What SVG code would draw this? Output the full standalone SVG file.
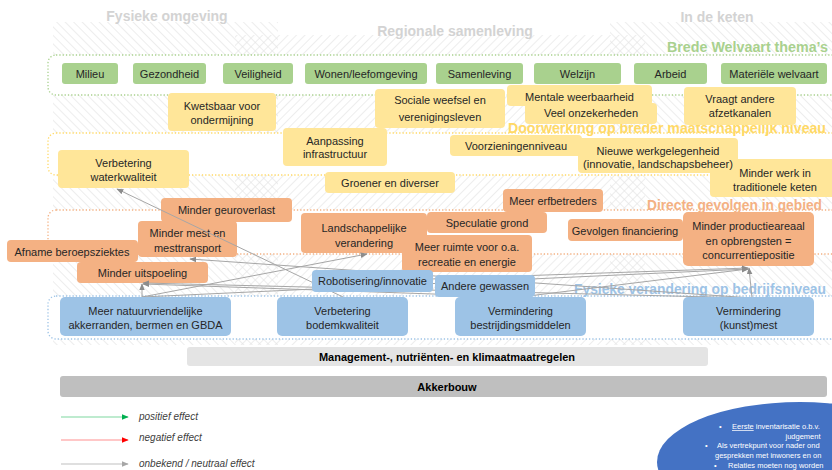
<svg xmlns="http://www.w3.org/2000/svg" width="832" height="470" viewBox="0 0 832 470">
<style>
.t{font-family:"Liberation Sans",Arial,sans-serif;font-size:11px;fill:#262626;text-anchor:middle}
.hd{font-family:"Liberation Sans",Arial,sans-serif;font-size:14px;font-weight:bold;fill:#d3d3d3;text-anchor:middle}
.bl{font-family:"Liberation Sans",Arial,sans-serif;font-size:14px;font-weight:bold;text-anchor:end}
.g rect{fill:#a9d18e}
.y rect{fill:#ffe699}
.o rect{fill:#f4b183}
.b rect{fill:#9dc3e6}
.band{fill:#ffffff;stroke-width:1.3;stroke-dasharray:1.3 2}
.cn{fill:none;stroke:#a6a6a6;stroke-width:1;marker-end:url(#ag)}
.lg{font-family:"Liberation Sans",Arial,sans-serif;font-size:10px;font-style:italic;fill:#404040}
.el{font-family:"Liberation Sans",Arial,sans-serif;font-size:7.5px;fill:#ffffff}
</style>
<defs>
<pattern id="hs" width="6" height="6" patternUnits="userSpaceOnUse" patternTransform="rotate(45)"><line x1="0" y1="0" x2="0" y2="6" stroke="#e4e4e4" stroke-width="1.3"/></pattern>
<pattern id="hb" width="6" height="6" patternUnits="userSpaceOnUse" patternTransform="rotate(-45)"><line x1="0" y1="0" x2="0" y2="6" stroke="#e4e4e4" stroke-width="1.3"/></pattern>
<marker id="ag" viewBox="0 0 10 10" refX="9" refY="5" markerWidth="7" markerHeight="7" orient="auto"><path d="M0,1 L10,5 L0,9 z" fill="#8c8c8c"/></marker>
<marker id="agr" viewBox="0 0 10 10" refX="9" refY="5" markerWidth="6" markerHeight="6" orient="auto"><path d="M0,1 L10,5 L0,9 z" fill="#00b050"/></marker>
<marker id="ard" viewBox="0 0 10 10" refX="9" refY="5" markerWidth="6" markerHeight="6" orient="auto"><path d="M0,1 L10,5 L0,9 z" fill="#ff0000"/></marker>
<marker id="agy" viewBox="0 0 10 10" refX="9" refY="5" markerWidth="6" markerHeight="6" orient="auto"><path d="M0,1 L10,5 L0,9 z" fill="#a6a6a6"/></marker>
</defs>
<rect width="832" height="470" fill="#ffffff"/>
<g id="hatching">
<rect x="53" y="22" width="225" height="323" fill="url(#hb)"/>
<rect x="235" y="35" width="410" height="310" fill="url(#hs)"/>
<rect x="610" y="22" width="222" height="323" fill="url(#hb)"/>
</g>
<g id="headers">
<text class="hd" x="167" y="21">Fysieke omgeving</text>
<text class="hd" x="455" y="36">Regionale samenleving</text>
<text class="hd" x="717" y="22">In de keten</text>
</g>
<g id="bands">
<rect class="band" x="48" y="55" width="800" height="40" rx="8" stroke="#a9d18e"/>
<rect class="band" x="48" y="133" width="800" height="42" rx="8" stroke="#ffd966"/>
<rect class="band" x="48" y="210" width="800" height="44" rx="8" stroke="#f4b183"/>
<rect class="band" x="48" y="296" width="800" height="43" rx="8" stroke="#9dc3e6"/>
<text class="bl" x="828" y="52" fill="#a9d18e" textLength="161" lengthAdjust="spacingAndGlyphs">Brede Welvaart thema’s</text>
<text class="bl" x="826" y="133" fill="#ffd966" textLength="318" lengthAdjust="spacingAndGlyphs">Doorwerking op breder maatschappelijk niveau</text>
<text class="bl" x="822" y="210" fill="#f4b183" textLength="175" lengthAdjust="spacingAndGlyphs">Directe gevolgen in gebied</text>
<text class="bl" x="826" y="294" fill="#9dc3e6" textLength="252" lengthAdjust="spacingAndGlyphs">Fysieke verandering op bedrijfsniveau</text>
</g>
<g id="thema" class="g">
<g id="milieu"><rect x="62" y="63" width="56" height="21" rx="3"/><text class="t" x="90" y="77.5">Milieu</text></g>
<g id="gezondheid"><rect x="133" y="63" width="73" height="21" rx="3"/><text class="t" x="169.5" y="77.5">Gezondheid</text></g>
<g id="veiligheid"><rect x="223" y="63" width="70" height="21" rx="3"/><text class="t" x="258" y="77.5">Veiligheid</text></g>
<g id="wonen"><rect x="305" y="63" width="122" height="21" rx="3"/><text class="t" x="366" y="77.5">Wonen/leefomgeving</text></g>
<g id="samenleving"><rect x="436" y="63" width="87" height="21" rx="3"/><text class="t" x="479.5" y="77.5">Samenleving</text></g>
<g id="welzijn"><rect x="534" y="63" width="87" height="21" rx="3"/><text class="t" x="577.5" y="77.5">Welzijn</text></g>
<g id="arbeid"><rect x="634" y="63" width="73" height="21" rx="3"/><text class="t" x="670.5" y="77.5">Arbeid</text></g>
<g id="materiele"><rect x="721" y="63" width="106" height="21" rx="3"/><text class="t" x="774" y="77.5">Materiële welvaart</text></g>
</g>
<g id="doorwerking" class="y">
<g id="kwetsbaar"><rect x="168" y="93" width="108" height="38" rx="4"/><text class="t" x="222" y="110">Kwetsbaar voor</text><text class="t" x="222" y="124">ondermijning</text></g>
<g id="sociale"><rect x="375" y="89" width="130" height="39" rx="4"/><text class="t" x="440" y="104">Sociale weefsel en</text><text class="t" x="440" y="121">verenigingsleven</text></g>
<g id="mentale"><rect x="507" y="85" width="145" height="21" rx="4"/><text class="t" x="579.5" y="100.5">Mentale weerbaarheid</text></g>
<g id="onzekerheden"><rect x="525" y="103" width="132" height="21" rx="4"/><text class="t" x="591" y="117">Veel onzekerheden</text></g>
<g id="afzetkanalen"><rect x="684" y="87" width="112" height="38" rx="4"/><text class="t" x="740" y="103">Vraagt andere</text><text class="t" x="740" y="117">afzetkanalen</text></g>
<g id="infrastructuur"><rect x="283" y="128" width="104" height="38" rx="4"/><text class="t" x="335" y="145">Aanpassing</text><text class="t" x="335" y="158">infrastructuur</text></g>
<g id="waterkwaliteit"><rect x="58" y="150" width="131" height="38" rx="4"/><text class="t" x="123.5" y="167">Verbetering</text><text class="t" x="123.5" y="181">waterkwaliteit</text></g>
<g id="groener"><rect x="325" y="172" width="130" height="21" rx="4"/><text class="t" x="390" y="187">Groener en diverser</text></g>
<g id="voorzieningen"><rect x="450" y="135" width="132" height="21" rx="4"/><text class="t" x="516" y="150">Voorzieningenniveau</text></g>
<g id="minderwerk"><rect x="710" y="159" width="130" height="38" rx="4"/><text class="t" x="775" y="177">Minder werk in</text><text class="t" x="775" y="191">traditionele keten</text></g>
<g id="werkgelegenheid"><rect x="578" y="138" width="160" height="35" rx="4"/><text class="t" x="658" y="155">Nieuwe werkgelegenheid</text><text class="t" x="658" y="168" textLength="150" lengthAdjust="spacingAndGlyphs">(innovatie, landschapsbeheer)</text></g>
</g>
<g id="gevolgen" class="o">
<g id="geuroverlast"><rect x="161" y="198" width="131" height="24" rx="4"/><text class="t" x="226.5" y="213.5">Minder geuroverlast</text></g>
<g id="beroepsziektes"><rect x="7" y="240" width="131" height="22" rx="4"/><text class="t" x="72" y="255.5">Afname beroepsziektes</text></g>
<g id="mesttransport"><rect x="138" y="221" width="99" height="36" rx="4"/><text class="t" x="187.5" y="237">Minder mest en</text><text class="t" x="187.5" y="252">mesttransport</text></g>
<g id="uitspoeling"><rect x="77" y="262" width="131" height="21" rx="4"/><text class="t" x="142.5" y="277">Minder uitspoeling</text></g>
<g id="landschappelijk"><rect x="301" y="213" width="126" height="40" rx="4"/><text class="t" x="364" y="232">Landschappelijke</text><text class="t" x="364" y="247">verandering</text></g>
<g id="speculatie"><rect x="427" y="212" width="120" height="21" rx="4"/><text class="t" x="487" y="227">Speculatie grond</text></g>
<g id="ruimte"><rect x="402" y="235" width="130" height="37" rx="4"/><text class="t" x="467" y="251">Meer ruimte voor o.a.</text><text class="t" x="467" y="266">recreatie en energie</text></g>
<g id="erfbetreders"><rect x="503" y="189" width="100" height="23" rx="4"/><text class="t" x="553" y="205">Meer erfbetreders</text></g>
<g id="financiering"><rect x="568" y="219" width="115" height="22" rx="4"/><text class="t" x="625" y="234.5">Gevolgen financiering</text></g>
<g id="productieareaal"><rect x="683" y="212" width="131" height="54" rx="5"/><text class="t" x="748.5" y="230">Minder productieareaal</text><text class="t" x="748.5" y="245">en opbrengsten =</text><text class="t" x="748.5" y="259">concurrentiepositie</text></g>
</g>
<g id="connectors">
<line class="cn" x1="343" y1="297" x2="117" y2="189"/>
<line class="cn" x1="752" y1="298" x2="749" y2="268"/>
<line class="cn" x1="752" y1="298" x2="190" y2="259"/>
<line class="cn" x1="752" y1="298" x2="143" y2="283"/>
<line class="cn" x1="142" y1="297" x2="142" y2="284"/>
<line class="cn" x1="142" y1="297" x2="367" y2="254"/>
<line class="cn" x1="520" y1="297" x2="143" y2="284"/>
<line class="cn" x1="372" y1="281" x2="748" y2="268"/>
<line class="cn" x1="142" y1="297" x2="748" y2="269"/>
<line class="cn" x1="520" y1="297" x2="748" y2="269"/>
</g>
<g id="fysiek" class="b">
<g id="robotisering"><rect x="312" y="270" width="121" height="22" rx="4"/><text class="t" x="372.5" y="285">Robotisering/innovatie</text></g>
<g id="gewassen"><rect x="435" y="275" width="100" height="22" rx="4"/><text class="t" x="485" y="290">Andere gewassen</text></g>
<g id="natuurvriendelijk"><rect x="60" y="297" width="171" height="39" rx="5"/><text class="t" x="145.5" y="314.5">Meer natuurvriendelijke</text><text class="t" x="145.5" y="328.5">akkerranden, bermen en GBDA</text></g>
<g id="bodemkwaliteit"><rect x="277" y="297" width="131" height="39" rx="5"/><text class="t" x="342.5" y="314.5">Verbetering</text><text class="t" x="342.5" y="328.5">bodemkwaliteit</text></g>
<g id="bestrijdingsmiddelen"><rect x="455" y="297" width="131" height="39" rx="5"/><text class="t" x="520.5" y="314.5">Vermindering</text><text class="t" x="520.5" y="328.5">bestrijdingsmiddelen</text></g>
<g id="kunstmest"><rect x="683" y="297" width="131" height="39" rx="5"/><text class="t" x="748.5" y="314.5">Vermindering</text><text class="t" x="748.5" y="328.5">(kunst)mest</text></g>
</g>
<g id="management"><rect x="187" y="347" width="521" height="19" rx="3" fill="#e4e4e4"/><text class="t" x="447" y="360.5" style="font-weight:bold;fill:#000">Management-, nutriënten- en klimaatmaatregelen</text></g>
<g id="akkerbouw"><rect x="60" y="376" width="767" height="21" rx="3" fill="#bfbfbf"/><text class="t" x="447" y="390.5" style="font-weight:bold;fill:#000">Akkerbouw</text></g>
<g id="legend">
<line x1="61" y1="417" x2="128" y2="417" stroke="#7fd8a0" stroke-width="1.2" marker-end="url(#agr)"/>
<text class="lg" x="139" y="420">positief effect</text>
<line x1="61" y1="440" x2="128" y2="440" stroke="#ff9090" stroke-width="1.2" marker-end="url(#ard)"/>
<text class="lg" x="139" y="441">negatief effect</text>
<line x1="61" y1="464" x2="128" y2="464" stroke="#bfbfbf" stroke-width="1.2" marker-end="url(#agy)"/>
<text class="lg" x="139" y="467">onbekend / neutraal effect</text>
</g>
<g id="note">
<ellipse cx="800" cy="462" rx="143" ry="60" fill="#4472c4"/>
<text class="el" x="719" y="429">•</text>
<text class="el" x="732" y="429"><tspan text-decoration="underline">Eerste</tspan> inventarisatie o.b.v.</text>
<text class="el" x="803" y="438.5" text-anchor="middle">judgement</text>
<text class="el" x="705" y="448">•</text>
<text class="el" x="717" y="448">Als vertrekpunt voor nader ond</text>
<text class="el" x="715" y="458">gesprekken met inwoners en on</text>
<text class="el" x="714" y="468">•</text>
<text class="el" x="728" y="468">Relaties moeten nog worden</text>
</g>
</svg>
